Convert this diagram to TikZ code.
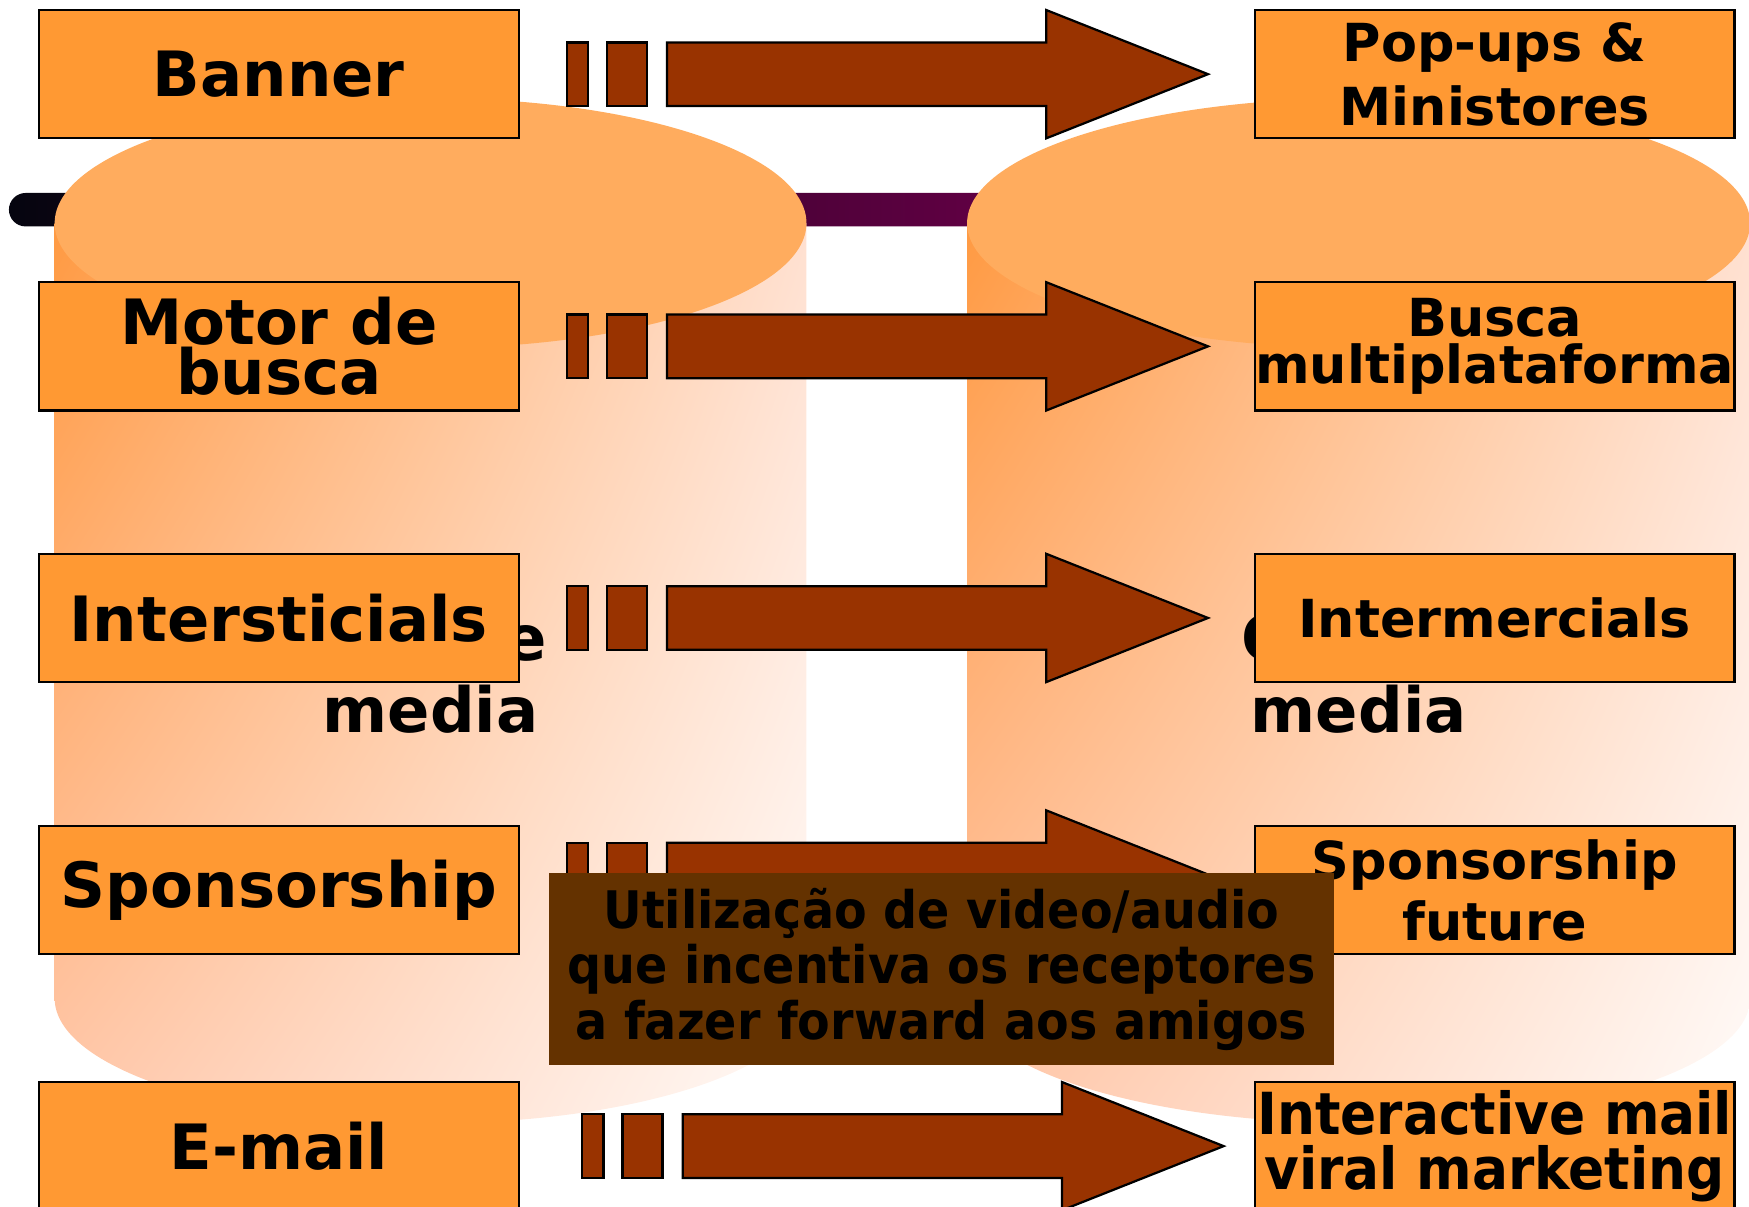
\documentclass[tikz,border=0pt]{standalone}
\usepackage{fontspec}
\usetikzlibrary{shadings}
\setmainfont{DejaVu Sans}
\newfontfamily\condfont[FakeStretch=0.92]{DejaVu Sans}
\definecolor{boxfill}{HTML}{FF9933}
\definecolor{arrowfill}{HTML}{993300}
\definecolor{calloutfill}{HTML}{643200}
\definecolor{cyltop}{HTML}{FFAC5E}
\definecolor{cylUL}{HTML}{FF9A42}
\definecolor{cylUR}{HTML}{FFE0D0}
\definecolor{cylLL}{HTML}{FFC8AC}
\definecolor{cylLR}{HTML}{FFFBF9}
\definecolor{barL}{RGB}{5,5,15}
\definecolor{barM}{RGB}{8,0,40}
\definecolor{barR}{RGB}{98,0,68}
\begin{document}
\begin{tikzpicture}[x=0.5pt,y=-0.5pt,
  box/.style={draw=black,line width=1pt,fill=boxfill,minimum width=215pt,minimum height=57.5pt,
    inner sep=0pt,align=center,text=black,font=\bfseries\fontsize{28}{22.5}\selectfont},
  rbox/.style={box,font=\bfseries\fontsize{23.5}{21}\selectfont},
  arrowsty/.style={draw=black,line width=1pt,fill=arrowfill},
  cyllabel/.style={inner sep=0pt,text=black,font=\bfseries\fontsize{28}{32.5}\selectfont},
  cylshade/.style={upper left=cylUL,upper right=cylUR,lower left=cylLL,lower right=cylLR},
  blockarrow/.pic={
    \filldraw[arrowsty] (0,-28.5) rectangle (19,28.5);
    \filldraw[arrowsty] (36,-28.5) rectangle (72,28.5);
    \filldraw[arrowsty] (90,-28.5) -- (430,-28.5) -- (430,-57.5) -- (575,0) -- (430,57.5) -- (430,28.5) -- (90,28.5) -- cycle;
  }]
\useasboundingbox (0,0) rectangle (1568,1082);
\clip (0,0) rectangle (1568,1082);
% horizontal bar
\shade[left color=barL,middle color=barM,right color=barR,rounded corners=7.5pt] (8,173) rectangle (900,203);
% faint grey halo behind right cylinder top
\begin{scope}
  \clip (900,0) rectangle (1568,200);
  \shade[left color=white,middle color=black!11,right color=white] (1218,200) ellipse [x radius=430,y radius=165];
\end{scope}
% left cylinder
\shade[cylshade] (723,200) rectangle (49,895) (386,895) ellipse [x radius=337,y radius=112];
\fill[cyltop] (386,200) ellipse [x radius=337,y radius=112];
% right cylinder
\shade[cylshade] (1569,200) rectangle (867,895) (1218,895) ellipse [x radius=351,y radius=112];
\fill[cyltop] (1218,200) ellipse [x radius=351,y radius=112];
% cylinder labels
\node[cyllabel,anchor=base] (llabA) at (388,592) {Online};
\node[cyllabel,anchor=base] (llabB) at (386,657) {media};
\node[cyllabel,anchor=base west] (rlabA) at (1113,592) {Online};
\node[cyllabel,anchor=base west] (rlabB) at (1121,657) {media};
% arrows
\pic (arA) at (508,66.5) {blockarrow};
\pic (arB) at (508,310.5) {blockarrow};
\pic (arC) at (508,554) {blockarrow};
\pic (arD) at (508,784) {blockarrow};
\pic (arE) at (522,1027.5) {blockarrow};
% left boxes
\node[box] (banner) at (250,66.5) {Banner};
\node[box] (motor) at (250,310.5) {Motor de\\busca};
\node[box] (inters) at (250,554) {Intersticials};
\node[box] (spons) at (250,798) {Sponsorship};
\node[box] (email) at (250,1027.5) {E-mail};
% right boxes
\node[rbox,font=\bfseries\fontsize{23.5}{28.5}\selectfont] (popups) at (1340,66.5) {Pop-ups \&\\Ministores};
\node[rbox] (buscam) at (1340,310.5) {Busca\\multiplataforma};
\node[rbox] (interm) at (1340,554) {Intermercials};
\node[rbox,font=\bfseries\fontsize{23.5}{27.5}\selectfont] (sponsf) at (1340,798) {Sponsorship\\future};
\node[rbox,font=\condfont\bfseries\fontsize{26}{25}\selectfont] (imail) at (1340,1027.5) {Interactive mail\\viral marketing};
% callout
\node[fill=calloutfill,minimum width=352pt,minimum height=86pt,inner sep=0pt,align=center,text=black,
  font=\condfont\bfseries\fontsize{23.2}{25}\selectfont] (callout) at (844,869)
  {Utilização de video/audio\\que incentiva os receptores\\a fazer forward aos amigos};
\end{tikzpicture}
\end{document}
